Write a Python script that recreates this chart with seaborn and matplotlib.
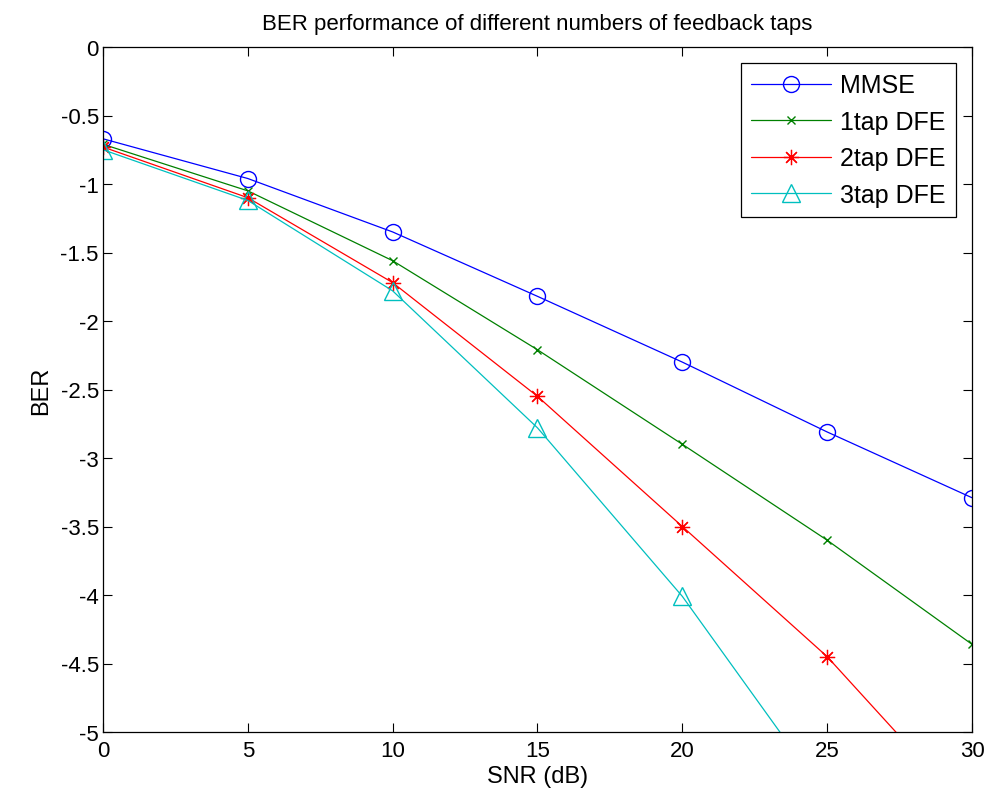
import matplotlib
matplotlib.use("Agg")
import matplotlib.pyplot as plt
import seaborn as sns
import pandas as pd

snr = [0, 5, 10, 15, 20, 25, 30]
mmse = [-0.67, -0.96, -1.35, -1.82, -2.30, -2.81, -3.29]
tap1 = [-0.71, -1.05, -1.56, -2.21, -2.90, -3.60, -4.36]
tap2 = [-0.73, -1.10, -1.72, -2.55, -3.50, -4.45, -5.61]
tap3 = [-0.75, -1.12, -1.78, -2.78, -4.01, -5.48]
labels = ["MMSE", "1tap DFE", "2tap DFE", "3tap DFE"]

sns.set_style("ticks")
plt.rcParams['font.family'] = ['Liberation Sans', 'DejaVu Sans']
plt.rcParams['xtick.direction'] = 'in'
plt.rcParams['ytick.direction'] = 'in'
plt.rcParams['text.color'] = 'black'
plt.rcParams['axes.labelcolor'] = 'black'

fig = plt.figure(figsize=(9.87, 8.03), dpi=100)
ax = fig.add_axes([103/987, 1-733/803, (972-103)/987, (733-48)/803])

series = [
    (mmse, "#0000ff", "o", 11.5, 1.0),
    (tap1, "#008000", "x", 6, 1.0),
    (tap2, "#ff0000", (8, 2, 0), 11, 0.9),
    (tap3, "#00bfbf", "^", 13.5, 1.0),
]
for (vals, col, mk, ms, mew), lab in zip(series, labels):
    df = pd.DataFrame({"SNR": snr[:len(vals)], "BER": vals})
    sns.lineplot(data=df, x="SNR", y="BER", ax=ax, color=col, marker=mk,
                 markersize=ms, markerfacecolor='none', markeredgecolor=col,
                 markeredgewidth=mew, linewidth=0.9, label=lab)

ax.set_xlim(0, 30)
ax.set_ylim(-5, 0)
ax.set_xticks([0, 5, 10, 15, 20, 25, 30])
ax.set_yticks([0, -0.5, -1, -1.5, -2, -2.5, -3, -3.5, -4, -4.5, -5])
ax.set_yticklabels(["0", "-0.5", "-1", "-1.5", "-2", "-2.5", "-3", "-3.5", "-4", "-4.5", "-5"])
ax.tick_params(axis='both', which='both', top=True, right=True, labelsize=16,
               length=6.5, width=0.8, colors='black')
ax.tick_params(axis='y', pad=3)
ax.tick_params(axis='x', pad=6)
for s in ax.spines.values():
    s.set_linewidth(0.9)
    s.set_color('black')
ax.set_xlabel("SNR (dB)", fontsize=17, labelpad=3, color='black')
ax.set_ylabel("BER", fontsize=17, labelpad=6, color='black')
ax.set_title("BER performance of different numbers of feedback taps", fontsize=16, pad=13,
             color='black')

leg = ax.legend(loc='upper right', fontsize=18, handlelength=3.2, fancybox=False,
                framealpha=1, edgecolor='black', borderaxespad=0.65, labelspacing=0.5,
                borderpad=0.4, handletextpad=0.35)
leg.get_frame().set_linewidth(0.9)
for t in leg.get_texts():
    t.set_color('black')

fig.savefig("out.png", dpi=100)
